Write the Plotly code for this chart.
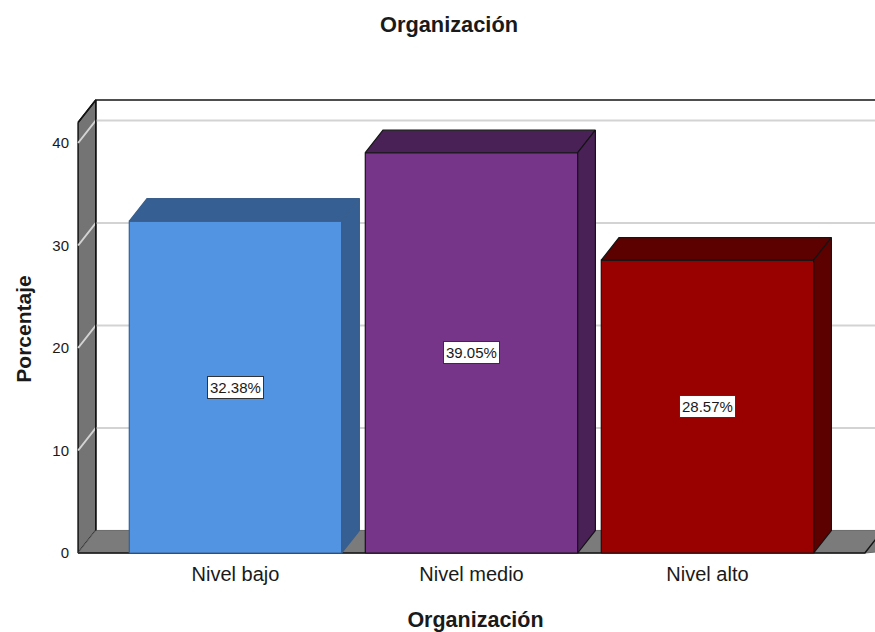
import plotly.graph_objects as go

# Percentages by level of organisation
categories = ["Nivel bajo", "Nivel medio", "Nivel alto"]
percentages = [32.38, 39.05, 28.57]
front_colors = ["#5294E2", "#773589", "#990000"]
shade_colors = ["#365F93", "#4A2157", "#5C0000"]
edge_colors = ["#3A5F8C", "#141414", "#141414"]
y_ticks = [0, 10, 20, 30, 40]

# 3D box geometry, in axis units (category index / percent)
BAR_W = 0.9
DX, DY = 0.075, 2.2
X_LO, X_HI = -0.667, 2.667
Y_TOP = 42.0

FONT = "Liberation Sans, Arial, sans-serif"
INK = "#1a1a1a"

fig = go.Figure()


def poly(xs, ys, fill, line_color, width):
    fig.add_trace(go.Scatter(
        x=xs + [xs[0]], y=ys + [ys[0]], fill="toself", fillcolor=fill,
        mode="lines", line=dict(color=line_color, width=width),
        hoverinfo="skip", showlegend=False))


def line(xs, ys, color, width):
    fig.add_trace(go.Scatter(
        x=xs, y=ys, mode="lines", line=dict(color=color, width=width),
        hoverinfo="skip", showlegend=False))


FAR = X_HI + 1.0  # back wall runs past the right edge

# left side wall
poly([X_LO, X_LO + DX, X_LO + DX, X_LO], [Y_TOP, Y_TOP + DY, DY, 0],
     "#747474", "#141414", 1.5)
# floor
poly([X_LO, X_LO + DX, FAR + DX, X_HI], [0, DY, DY, 0],
     "#7B7B7B", "#6a6a6a", 1)
line([X_LO, X_HI, X_HI + DX], [0, 0, DY], "#141414", 1.5)

# grid lines across the side wall and back wall
for v in y_ticks[1:]:
    line([X_LO, X_LO + DX, FAR + DX], [v, v + DY, v + DY], "#D3D3D3", 2)

# back-wall frame
line([X_LO, X_LO + DX, FAR + DX], [Y_TOP, Y_TOP + DY, Y_TOP + DY], "#141414", 1.5)
line([X_LO + DX, X_LO + DX], [DY, Y_TOP + DY], "#141414", 1.5)

# bars: front face, top face, right side face
for i, v in enumerate(percentages):
    x0, x1 = i - BAR_W / 2, i + BAR_W / 2
    poly([x0, x1, x1, x0], [0, 0, v, v], front_colors[i], edge_colors[i], 1.2)
    poly([x0, x0 + DX, x1 + DX, x1], [v, v + DY, v + DY, v],
         shade_colors[i], edge_colors[i], 1.2)
    poly([x1, x1 + DX, x1 + DX, x1], [0, DY, v + DY, v],
         shade_colors[i], edge_colors[i], 1.2)
    fig.add_annotation(
        x=i, y=v / 2, text=f"{v:.2f}%", showarrow=False,
        font=dict(family=FONT, size=15, color=INK),
        bgcolor="white", bordercolor="#333333", borderwidth=1, borderpad=2)

fig.update_layout(
    width=875, height=632,
    margin=dict(l=76, r=0, t=98, b=72),
    paper_bgcolor="white", plot_bgcolor="white",
    font=dict(family=FONT, color=INK),
    title=dict(text="Organización", x=449 / 875, xanchor="center",
               y=1 - 24.5 / 632, yanchor="middle", yref="container",
               font=dict(family=FONT, size=21.8, weight="bold", color=INK)),
    xaxis=dict(range=[-0.6758, 2.7098], tickvals=list(range(len(categories))),
               ticktext=categories, showgrid=False, zeroline=False,
               showline=False, ticks="", tickfont=dict(size=20, color=INK),
               title=dict(text="Organización", standoff=28,
                          font=dict(size=21.5, weight="bold", color=INK)),
               automargin=False, fixedrange=True),
    yaxis=dict(range=[-0.683, 44.39], tickvals=y_ticks, showgrid=False,
               zeroline=False, showline=False, ticks="",
               ticklabelstandoff=6, tickfont=dict(size=15, color=INK),
               title=dict(text="Porcentaje", standoff=14,
                          font=dict(size=21, weight="bold", color=INK)),
               automargin=False, fixedrange=True),
)

fig.write_html("out.html")
